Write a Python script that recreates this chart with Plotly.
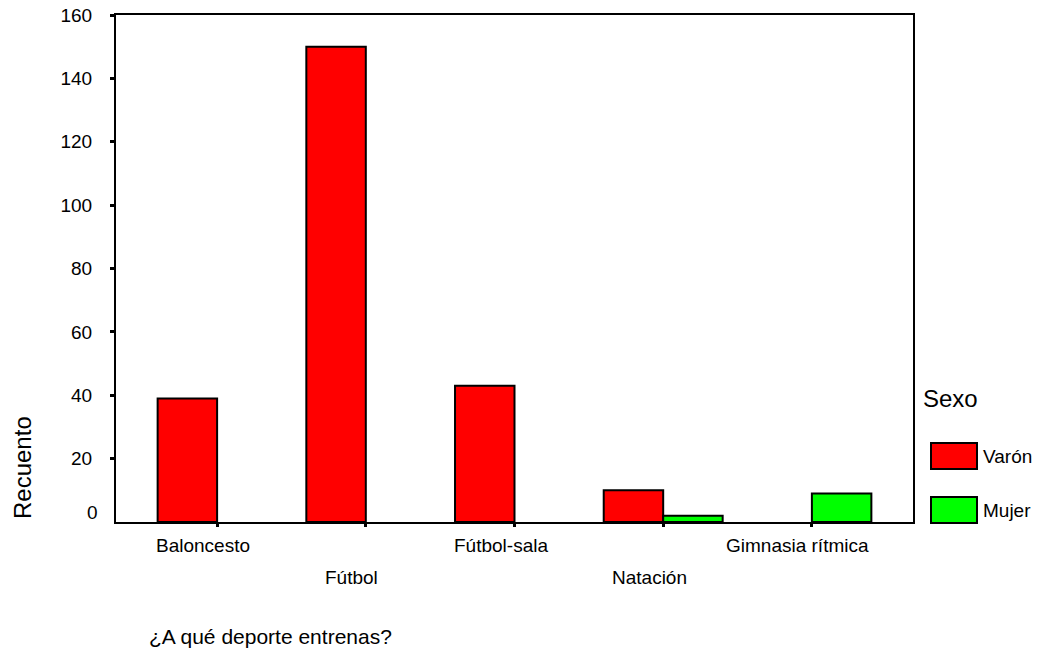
import plotly.graph_objects as go

categories = ["Baloncesto", "Fútbol", "Fútbol-sala", "Natación", "Gimnasia rítmica"]
varon = [39, 150, 43, 10, None]
mujer = [None, None, None, 2, 9]
series_names = ["Varón", "Mujer"]
series_colors = ["#ff0000", "#00ff00"]
y_ticks = [0, 20, 40, 60, 80, 100, 120, 140, 160]

W, H = 1039, 650
ML, MR, MT, MB = 116, 126, 15, 128
PW, PH = W - ML - MR, H - MT - MB

def px(x):
    return (x - ML) / PW

def py(y):
    return 1 - (y - MT) / PH

FONT = "Liberation Sans, Arial, sans-serif"

fig = go.Figure()
for name, vals, col in zip(series_names, [varon, mujer], series_colors):
    fig.add_trace(go.Bar(
        x=categories, y=vals, name=name,
        marker=dict(color=col, line=dict(color="black", width=2)),
        showlegend=False,
    ))

annotations = []
# staggered category labels
for i, c in enumerate(categories):
    annotations.append(dict(
        x=c, xref="x", y=0, yref="paper", text=c, showarrow=False,
        xanchor="center", yanchor="middle", xshift=-14,
        yshift=-23 if i % 2 == 0 else -55,
        font=dict(size=19, color="black", family=FONT),
    ))
# zero label shifted up like reference
annotations.append(dict(
    x=0, xref="paper", y=0, yref="y", text="0", showarrow=False,
    xanchor="right", yanchor="middle", xshift=-16, yshift=10,
    font=dict(size=19, color="black", family=FONT),
))
annotations.append(dict(
    x=px(22), xref="paper", y=py(468), yref="paper", text="Recuento",
    textangle=-90, showarrow=False, xanchor="center", yanchor="middle",
    font=dict(size=24, color="black", family=FONT),
))
annotations.append(dict(
    x=px(147), xref="paper", y=py(636), yref="paper", text="¿A qué deporte entrenas?",
    showarrow=False, xanchor="left", yanchor="middle",
    font=dict(size=21, color="black", family=FONT),
))
annotations.append(dict(
    x=px(921), xref="paper", y=py(398), yref="paper", text="Sexo",
    showarrow=False, xanchor="left", yanchor="middle",
    font=dict(size=24, color="black", family=FONT),
))

shapes = []
for k, (name, col) in enumerate(zip(series_names, series_colors)):
    top = 443 + k * 54
    shapes.append(dict(
        type="rect", xref="paper", yref="paper",
        x0=px(931), x1=px(977), y0=py(top), y1=py(top + 26),
        fillcolor=col, line=dict(color="black", width=2),
    ))
    annotations.append(dict(
        x=px(981), xref="paper", y=py(top + 13), yref="paper", text=name,
        showarrow=False, xanchor="left", yanchor="middle",
        font=dict(size=19, color="black", family=FONT),
    ))

fig.update_layout(
    width=W, height=H,
    margin=dict(l=ML, r=MR, t=MT, b=MB, pad=0, autoexpand=False),
    paper_bgcolor="white", plot_bgcolor="white",
    barmode="group", bargap=0.2, bargroupgap=0,
    font=dict(family=FONT, size=19, color="black"),
    xaxis=dict(
        type="category", range=[-0.68, 4.68], showticklabels=False,
        showline=True, linecolor="black", linewidth=2, mirror=True,
        ticks="outside", ticklen=3, tickwidth=3, tickcolor="black",
        showgrid=False, zeroline=False, automargin=False,
    ),
    yaxis=dict(
        range=[0, 160], tickvals=y_ticks[1:], ticktext=[str(v) for v in y_ticks[1:]],
        showline=True, linecolor="black", linewidth=2, mirror=True,
        ticks="outside", ticklen=4, tickwidth=3, tickcolor="black",
        showgrid=False, zeroline=False, ticklabelstandoff=14, automargin=False,
        tickfont=dict(size=19, color="black", family=FONT),
    ),
    annotations=annotations, shapes=shapes,
)

fig.write_html(
    "out.html",
    config={"displayModeBar": False},
    post_script="document.body.style.margin='0';document.body.style.overflow='hidden';",
)
